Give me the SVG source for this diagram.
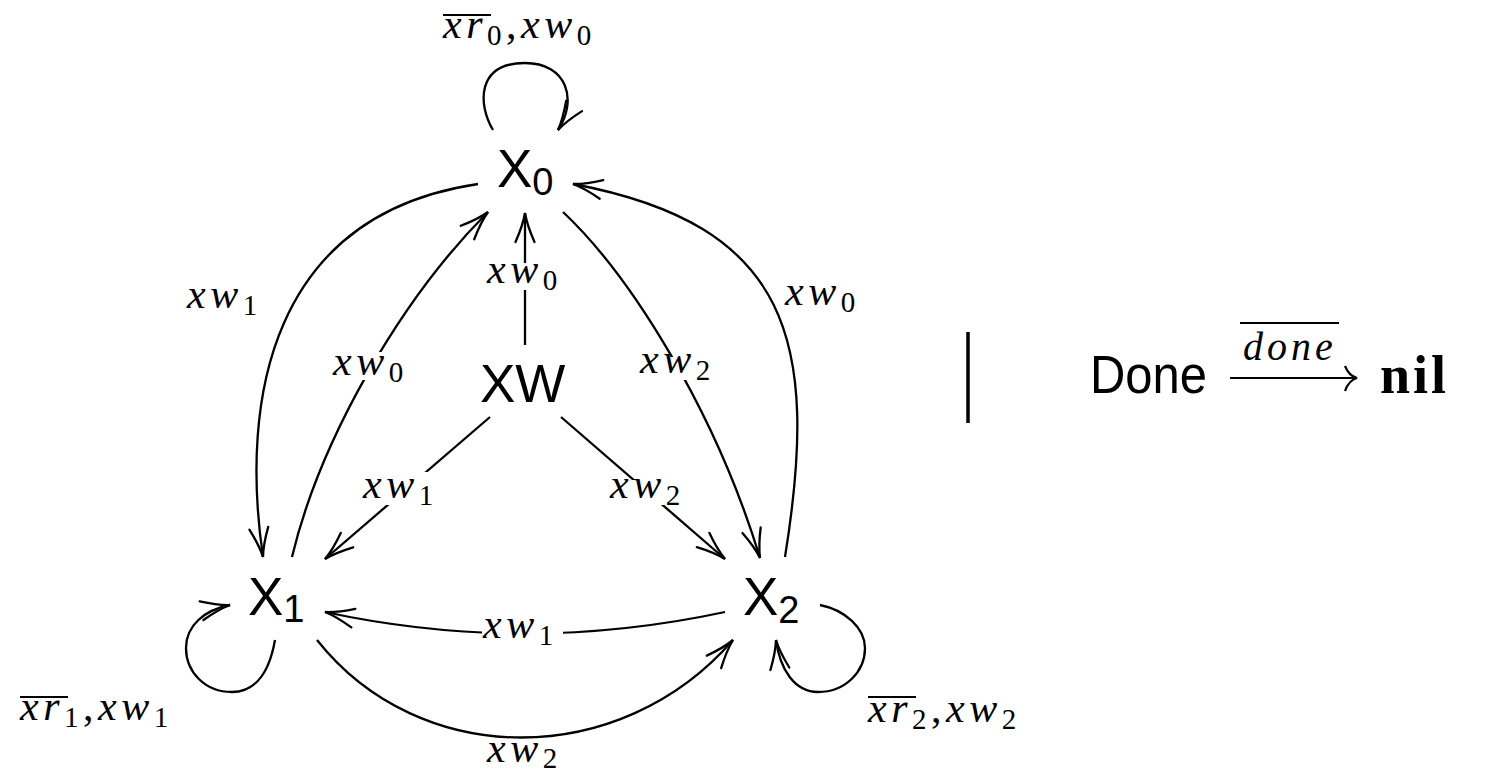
<svg xmlns="http://www.w3.org/2000/svg" width="1487" height="777" viewBox="0 0 1487 777">
<style>
.node{font-family:"Liberation Sans",Arial,sans-serif;font-size:53px;fill:#000}
.nsub{font-size:38px}
.e{fill:none;stroke:#000;stroke-width:2.3;marker-end:url(#ah)}
.m{font-family:"Liberation Serif","Times New Roman",serif;font-style:italic;font-size:42px;letter-spacing:4.5px;fill:#000}
.s{font-style:normal;font-size:29px}
.r{font-style:normal}
.bg{fill:#fff;stroke:none}
.ov{stroke:#000;stroke-width:2}
</style>
<defs>
<marker id="ah" markerUnits="userSpaceOnUse" viewBox="-32 -12 36 24" refX="0" refY="0" markerWidth="36" markerHeight="24" orient="auto" overflow="visible">
<path d="M -29,-9.5 Q -12,-2 0,0 Q -12,2 -29,9.5" fill="none" stroke="#000" stroke-width="2.3" stroke-linecap="round"/>
</marker>
</defs>
<rect width="1487" height="777" fill="#fff"/>
<g id="connectors">
<path class="e" d="M 493 130 C 478 105, 476 63, 525 63 C 567 63, 578 100, 558 130"/>
<path class="e" d="M 478 184 C 270 215, 240 400, 263 557"/>
<path class="e" d="M 292 557 C 320 440, 400 300, 488 212"/>
<path class="e" d="M 525 345 L 525 213"/>
<path class="e" d="M 563 212 C 630 275, 715 410, 760 558"/>
<path class="e" d="M 785 557 C 820 340, 790 225, 573 184"/>
<path class="e" d="M 490 417 L 325 559"/>
<path class="e" d="M 561 417 L 725 559"/>
<path class="e" d="M 725 612 Q 525 655 325 612"/>
<path class="e" d="M 317 640 C 420 770, 620 770, 733 640"/>
<path class="e" d="M 275 640 C 268 680, 250 692, 232 692 C 205 692, 186 672, 186 648 C 186 625, 205 610, 230 605"/>
<path class="e" d="M 820 605 C 845 610, 865 628, 865 648 C 865 672, 845 692, 818 692 C 795 692, 780 670, 776 640"/>
<rect class="bg" x="485" y="263" width="80" height="27"/>
<rect class="bg" x="333" y="352" width="77" height="28"/>
<rect class="bg" x="640" y="357" width="76" height="23"/>
<rect class="bg" x="362" y="472" width="78" height="33"/>
<rect class="bg" x="608" y="480" width="80" height="25"/>
<rect class="bg" x="482" y="620" width="81" height="25"/>
<text class="m" x="443" y="38">xr<tspan class="s" dy="7">0</tspan><tspan class="r" dy="-7">,</tspan>xw<tspan class="s" dy="7">0</tspan></text>
<line class="ov" x1="443" y1="15" x2="491" y2="15"/>
<text class="m" x="187" y="308">xw<tspan class="s" dy="7">1</tspan></text>
<text class="m" x="333" y="375">xw<tspan class="s" dy="7">0</tspan></text>
<text class="m" x="487" y="283">xw<tspan class="s" dy="7">0</tspan></text>
<text class="m" x="640" y="373">xw<tspan class="s" dy="7">2</tspan></text>
<text class="m" x="785" y="305">xw<tspan class="s" dy="7">0</tspan></text>
<text class="m" x="363" y="498">xw<tspan class="s" dy="7">1</tspan></text>
<text class="m" x="610" y="498">xw<tspan class="s" dy="7">2</tspan></text>
<text class="m" x="483" y="638">xw<tspan class="s" dy="7">1</tspan></text>
<text class="m" x="487" y="762">xw<tspan class="s" dy="6">2</tspan></text>
<text class="m" x="20" y="720">xr<tspan class="s" dy="7">1</tspan><tspan class="r" dy="-7">,</tspan>xw<tspan class="s" dy="7">1</tspan></text>
<line class="ov" x1="20" y1="697" x2="68" y2="697"/>
<text class="m" x="868" y="722">xr<tspan class="s" dy="7">2</tspan><tspan class="r" dy="-7">,</tspan>xw<tspan class="s" dy="7">2</tspan></text>
<line class="ov" x1="868" y1="697" x2="916" y2="697"/>
</g>
<g id="X0"><text class="node" x="497" y="187">X<tspan class="nsub" dy="8">0</tspan></text></g>
<g id="X1"><text class="node" x="248" y="615">X<tspan class="nsub" dy="7">1</tspan></text></g>
<g id="X2"><text class="node" x="743" y="615">X<tspan class="nsub" dy="8">2</tspan></text></g>
<g id="XW"><text class="node" x="480" y="402">XW</text></g>
<g id="done-process">
<line x1="968" y1="332" x2="968" y2="423" stroke="#000" stroke-width="3.5"/>
<text class="node" x="1090" y="393" font-size="52" textLength="117" lengthAdjust="spacingAndGlyphs">Done</text>
<line x1="1230" y1="378" x2="1356" y2="378" stroke="#000" stroke-width="2.2"/>
<path d="M 1345 366 Q 1349 376 1357 378 Q 1349 380 1345 391" fill="none" stroke="#000" stroke-width="2.2"/>
<text class="m" x="1243" y="360" style="letter-spacing:4px;font-size:40px">done</text>
<line class="ov" x1="1240" y1="323" x2="1339" y2="323"/>
<text x="1380" y="393" font-family="Liberation Serif,'Times New Roman',serif" font-weight="bold" font-size="54" letter-spacing="3">nil</text>
</g>
</svg>
